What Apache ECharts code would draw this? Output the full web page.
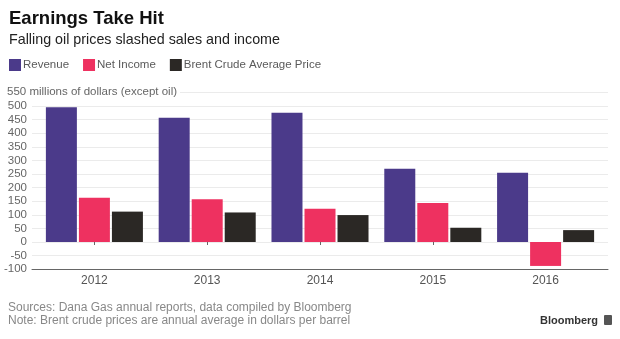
<!DOCTYPE html>
<html><head><meta charset="utf-8">
<script src="https://cdn.jsdelivr.net/npm/echarts@6/dist/echarts.min.js"></script>
<style>html,body{margin:0;padding:0;background:#fff;}#c{width:620px;height:339px;}</style>
</head><body><div id="c"></div>
<script>
var categories = ['2012', '2013', '2014', '2015', '2016'];
var revenue = [495, 457, 475, 269, 255];
var netIncome = [163, 157, 122, 143, -88];
var brent = [111.7, 108.6, 99, 52.4, 43.7];
var yMin = -100, yMax = 550, yStep = 50;

var chart = echarts.init(document.getElementById('c'));
var font = 'Liberation Sans, Arial, sans-serif';
chart.setOption({
  backgroundColor: '#ffffff',
  animation: false,
  textStyle: {fontFamily: font},
  legend: {
    left: 4, top: 54, itemWidth: 12, itemHeight: 12, itemGap: 14,
    icon: 'rect',
    textStyle: {color: '#5a5a5a', fontSize: 11.5, fontFamily: font, padding: [0,0,0,-3]},
    data: ['Revenue', 'Net Income', 'Brent Crude Average Price']
  },
  grid: [
    {left: 38, right: 18, top: 92.4, bottom: 69.8},
    {left: 32, right: 12, top: 92.4, bottom: 69.8}
  ],
  xAxis: [
    {type: 'category', gridIndex: 0, data: categories,
     axisLine: {show: false},
     axisTick: {show: true, alignWithLabel: true, length: 3, lineStyle: {color: '#666'}},
     axisLabel: {color: '#555', fontSize: 12, margin: 5}},
    {type: 'value', gridIndex: 1, min: 0, max: 1, show: true,
     axisLine: {show: true, onZero: false, lineStyle: {color: '#666', width: 1}},
     axisTick: {show: false}, axisLabel: {show: false}, splitLine: {show: false}}
  ],
  yAxis: [
    {type: 'value', gridIndex: 0, min: yMin, max: yMax, interval: yStep,
     axisLine: {show: false}, axisTick: {show: false}, axisLabel: {show: false}, splitLine: {show: false}},
    {type: 'value', gridIndex: 1, min: yMin, max: yMax, interval: yStep,
     axisLine: {show: false}, axisTick: {show: false},
     axisLabel: {color: '#666', fontSize: 11.5, margin: 5, formatter: function(v){ return v === yMax ? '' : String(v); }},
     splitLine: {show: true, lineStyle: {color: '#ebebeb', width: 1}}}
  ],
  series: [
    {name: 'Revenue', type: 'bar', data: revenue, barWidth: 31, barGap: '6.5%', itemStyle: {color: '#4b3a8a'}, z: 3},
    {name: 'Net Income', type: 'bar', data: netIncome, barWidth: 31, barGap: '6.5%', itemStyle: {color: '#ee3160'}, z: 3},
    {name: 'Brent Crude Average Price', type: 'bar', data: brent, barWidth: 31, barGap: '6.5%', itemStyle: {color: '#2b2825'}, z: 3}
  ],
  graphic: [
    {type: 'text', left: 9, top: 9, z: 100, style: {text: 'Earnings Take Hit', font: 'bold 18.5px ' + font, fill: '#111'}},
    {type: 'text', left: 9, top: 33, z: 100, style: {text: 'Falling oil prices slashed sales and income', font: '14.3px ' + font, fill: '#222'}},
    {type: 'rect', left: 0, top: 85, z: 99, shape: {width: 180, height: 15}, style: {fill: '#ffffff'}},
    {type: 'text', left: 7, top: 86, z: 100, style: {text: yMax + ' millions of dollars (except oil)', font: '11.5px ' + font, fill: '#666'}},
    {type: 'text', left: 8, top: 302, z: 100, style: {text: 'Sources: Dana Gas annual reports, data compiled by Bloomberg', font: '12px ' + font, fill: '#888'}},
    {type: 'text', left: 8, top: 315, z: 100, style: {text: 'Note: Brent crude prices are annual average in dollars per barrel', font: '12px ' + font, fill: '#888'}},
    {type: 'text', left: 540, top: 315, z: 100, style: {text: 'Bloomberg', font: 'bold 11px ' + font, fill: '#333'}},
    {type: 'rect', left: 604, top: 315, z: 100, shape: {width: 8, height: 10, r: 1}, style: {fill: '#555'}}
  ]
});
</script></body></html>
